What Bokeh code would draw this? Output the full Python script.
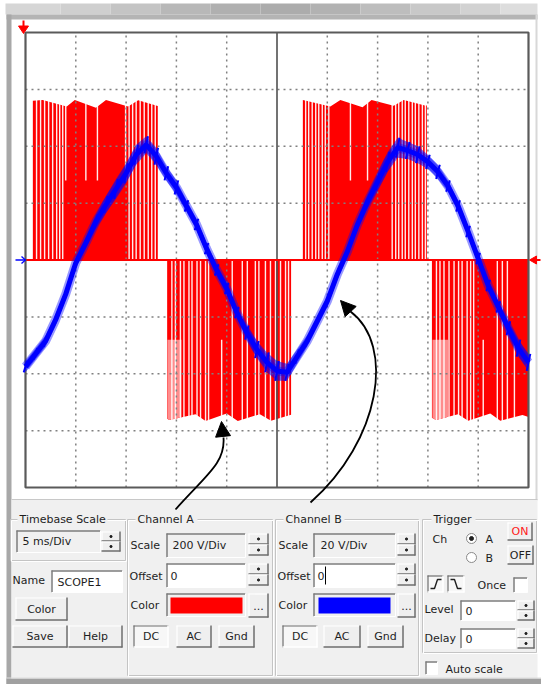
import numpy as np
from bokeh.plotting import figure
from bokeh.models import Range1d, Arrow, NormalHead
from bokeh.core.properties import value
from bokeh.embed import file_html
from bokeh.resources import INLINE

# ---------------- data ----------------
time_div_ms = 5
chA_v_per_div = 200
chB_v_per_div = 20
n_xdiv = 10
n_ydiv = 8

# Channel B (blue) trace, ms / V
blue_t = list(range(0, 51))
blue_v = [-37.5, -33, -28.5, -21, -12, -1, 6, 13.5, 19.5, 25, 30.5, 37, 40.5, 36.5, 30.5,
          25.5, 19, 12.5, 4, -3.5, -10, -18.5, -25.5, -31.5, -36, -39, -39.5, -34, -28.5,
          -21.5, -14.5, -5, 3, 12.5, 20.5, 27.5, 34.5, 39.5, 38.5, 37, 34.5, 31, 26, 19,
          10, 0.5, -9, -16.5, -24, -31, -36]
# ripple band (peak-to-peak, V) seen around the blue trace
blue_ripple = [4, 4, 4, 4, 4, 4, 4, 5, 6, 7, 7, 7, 6, 6, 5, 5, 4, 4, 4, 4, 4, 4, 5, 6, 7,
               7, 6, 5, 4, 4, 4, 4, 4, 4, 5, 6, 7, 7, 6, 6, 5, 5, 4, 4, 4, 4, 4, 4, 5, 6, 6]

# Channel A (red) pulse envelope (|V|) breakpoints
red_env_t = [0, 1.7, 4.1, 4.9, 7.0, 8.0, 10.2, 11.2, 13.3, 14.3, 16.9, 17.9, 20.0, 21.1,
             23.3, 24.4, 26.4, 27.5, 30.3, 31.3, 33.5, 34.4, 36.6, 37.6, 39.8, 40.8, 43.0,
             44.0, 46.2, 47.2, 49.4, 50]
red_env_v = [558, 563, 540, 563, 535, 563, 540, 562, 540, 563, 542, 566, 540, 566, 542,
             565, 544, 563, 540, 563, 537, 563, 542, 563, 542, 563, 542, 565, 540, 565,
             545, 552]
red_mid_v = 280

red_half_start = [0.73, 14.08, 27.57, 40.4]
red_half_end = [13.15, 26.4, 39.9, 50.0]
red_half_sign = [1, -1, 1, -1]
red_full_gaps = [
    [1.1, 1.5, 1.9, 2.3, 2.7, 3.1, 3.4, 3.7, 10.3, 10.65, 11.0, 11.4, 11.8, 12.2, 12.55, 12.9],
    [14.55, 14.9, 15.4, 15.75, 16.25, 16.55, 17.05, 17.4, 17.9, 18.2, 20.55, 21.55, 22.05,
     22.85, 23.2, 23.85, 24.35, 24.85, 25.35, 25.85, 26.15],
    [27.85, 28.15, 28.5, 28.85, 29.15, 29.5, 29.8, 30.15, 36.45, 36.8, 37.1, 37.45, 37.75,
     38.1, 38.45, 38.75, 39.1, 39.45, 39.75],
    [40.85, 41.2, 41.6, 42.1, 42.6, 43.05, 43.4, 43.9, 44.25, 44.55, 46.9, 47.4, 47.9],
]
red_outer_gaps = [[4.0, 6.0, 7.15, 9.95], [19.5], [32.3, 34.0], [45.5, 48.6]]
red_pink_start = [[], [14.1], [], [40.45]]
red_pink_end = [[], [15.5], [], [42.0]]

# ---------------- figure ----------------
W, H = 541, 684
p = figure(width=W, height=H, x_range=Range1d(0, W), y_range=Range1d(H, 0),
           output_backend="svg", toolbar_location=None, min_border=0,
           x_axis_type=None, y_axis_type=None)
p.outline_line_color = None
p.background_fill_color = "white"
p.border_fill_color = "white"

FONT = "DejaVu Sans"
RED = "#ff0000"
BLUE = "#0000ff"
PANEL = "#f0f0f0"

# screen geometry (page pixels)
SX0, SX1 = 25.0, 528.0
SY0, SY1 = 32.0, 487.0
t_span = n_xdiv * time_div_ms
ms_px = t_span / (SX1 - SX0)
ycen = (SY0 + SY1) / 2
div_px = n_ydiv / (SY1 - SY0)
p.extra_x_ranges = {"t": Range1d((0 - SX0) * ms_px, (W - SX0) * ms_px)}
p.extra_y_ranges = {
    "va": Range1d((ycen - H) * div_px * chA_v_per_div, ycen * div_px * chA_v_per_div),
    "vb": Range1d((ycen - H) * div_px * chB_v_per_div, ycen * div_px * chB_v_per_div),
}
TA = dict(x_range_name="t", y_range_name="va")
TB = dict(x_range_name="t", y_range_name="vb")


def box(x0, y0, x1, y1, fill, line=None, lw=1):
    p.quad(left=[x0], right=[x1], top=[y0], bottom=[y1], fill_color=fill,
           line_color=line, line_width=lw)


def seg(x0, y0, x1, y1, color, w=1, dash="solid"):
    p.segment(x0=[x0], y0=[y0], x1=[x1], y1=[y1], line_color=color, line_width=w,
              line_dash=dash)


def txt(x, y, s, size="11px", color="#1e1e1e", align="left", style="normal"):
    p.text(x=[x], y=[y], text=[s], text_font=value(FONT), text_font_size=size,
           text_color=color, text_align=align, text_baseline="middle",
           text_font_style=style)


def sunken(x0, y0, x1, y1, fill="white"):
    box(x0, y0, x1, y1, fill)
    seg(x0, y0 + 0.5, x1, y0 + 0.5, "#7c7c7c", 1.5)
    seg(x0 + 0.5, y0, x0 + 0.5, y1, "#7c7c7c", 1.5)
    seg(x0, y1, x1, y1, "#ffffff", 1)
    seg(x1, y0, x1, y1, "#ffffff", 1)


def raised(x0, y0, x1, y1, label=None, color="#1e1e1e", pressed=False):
    box(x0, y0, x1, y1, "#f7f7f7" if pressed else "#efefef")
    dark, light = ("#ffffff", "#6e6e6e") if pressed else ("#6e6e6e", "#ffffff")
    seg(x0, y0 + 0.5, x1, y0 + 0.5, light, 1.2)
    seg(x0 + 0.5, y0, x0 + 0.5, y1, light, 1.2)
    seg(x0, y1 - 0.5, x1, y1 - 0.5, dark, 1.5)
    seg(x1 - 0.5, y0, x1 - 0.5, y1, dark, 1.5)
    if label:
        txt((x0 + x1) / 2, (y0 + y1) / 2, label, color=color, align="center")


def spinner(x0, y0, x1, y1):
    ym = (y0 + y1) / 2
    raised(x0, y0, x1, ym)
    raised(x0, ym, x1, y1)
    cx = (x0 + x1) / 2
    p.scatter(x=[cx, cx], y=[(y0 + ym) / 2, (ym + y1) / 2], size=2.2, color="#202020")


def group(x0, y0, x1, y1, label, lx, lw):
    for c, o in (("#c4c4c4", 0), ("#ffffff", 1)):
        seg(x0 + o, y0 + o, lx - 2, y0 + o, c)
        seg(lx + lw + 2, y0 + o, x1 + o, y0 + o, c)
        seg(x0 + o, y0 + o, x0 + o, y1 + o, c)
        seg(x1 + o, y0 + o, x1 + o, y1 + o, c)
        seg(x0 + o, y1 + o, x1 + o, y1 + o, c)
    txt(lx, y0, label)


# ---------------- window chrome ----------------
strip_x = [5, 60, 110, 160, 210, 260, 310, 360, 410, 460, 500, 537]
strip_c = ["#d6d6d6", "#cfcfcf", "#c4c4c4", "#b8b8b8", "#b0b0b0", "#acacac", "#b2b2b2",
           "#bdbdbd", "#c8c8c8", "#d2d2d2", "#dddddd"]
for i in range(len(strip_c)):
    box(strip_x[i], 3, strip_x[i + 1], 14, strip_c[i])
box(6, 14, 537, 19, "#b4b4b4")
box(6, 14, 11, 684, "#a8a8a8")
box(535, 14, 537, 500, "#d8d8d8")

# panel
box(11, 499, 537, 684, PANEL)
seg(11, 499, 537, 499, "#c8c8c8", 1)
box(6, 678, 541, 684, "#a0a0a0")
seg(6, 677.5, 541, 677.5, "#dcdcdc", 1)

# ---------------- oscilloscope screen ----------------
env_t = np.array(red_env_t, dtype=float)
env_v = np.array(red_env_v, dtype=float)
gw = 0.07
for k in range(4):
    s, e, sg = red_half_start[k], red_half_end[k], red_half_sign[k]
    ts = [s] + [t for t in red_env_t if s < t < e] + [e]
    vs = [sg * float(np.interp(t, env_t, env_v)) for t in ts]
    p.varea(x=ts, y1=0, y2=vs, fill_color=RED, **TA)
    for a, b in zip(red_pink_start[k], red_pink_end[k]):
        pts = [a] + [t for t in red_env_t if a < t < b] + [b]
        pv = [sg * float(np.interp(t, env_t, env_v)) for t in pts]
        p.varea(x=pts, y1=sg * red_mid_v, y2=pv, fill_color="#ff8c8c", **TA)
    fg = red_full_gaps[k]
    if fg:
        top = [sg * (float(np.interp(t, env_t, env_v)) + 6) for t in fg]
        p.quad(left=[t - gw for t in fg], right=[t + gw for t in fg],
               top=[max(0, v) for v in top], bottom=[min(0, v) for v in top],
               fill_color="white", fill_alpha=0.92, line_color=None, **TA)
    og = red_outer_gaps[k]
    if og:
        top = [sg * (float(np.interp(t, env_t, env_v)) + 6) for t in og]
        mid = [sg * red_mid_v for _ in og]
        p.quad(left=[t - gw for t in og], right=[t + gw for t in og],
               top=[max(a, b) for a, b in zip(top, mid)],
               bottom=[min(a, b) for a, b in zip(top, mid)],
               fill_color="white", fill_alpha=0.92, line_color=None, **TA)

# grid (dotted), centre lines
vmax = n_ydiv / 2 * chA_v_per_div
xt = [i * time_div_ms for i in range(1, n_xdiv) if i != n_xdiv // 2]
p.segment(x0=xt, y0=[-vmax] * len(xt), x1=xt, y1=[vmax] * len(xt), line_color="#808080",
          line_width=1.5, line_dash="2 4", **TA)
yt = [j * chA_v_per_div for j in range(-3, 4) if j != 0]
p.segment(x0=[0] * len(yt), y0=yt, x1=[t_span] * len(yt), y1=yt, line_color="#808080",
          line_width=1.5, line_dash="2 4", **TA)
p.segment(x0=[t_span / 2], y0=[-vmax], x1=[t_span / 2], y1=[vmax], line_color="#505050",
          line_width=1.6, **TA)
# channel A zero trace
p.segment(x0=[0], y0=[0], x1=[t_span], y1=[0], line_color=RED, line_width=2, **TA)
# screen frame
p.quad(left=[0], right=[t_span], top=[vmax], bottom=[-vmax], fill_color=None,
       line_color="#5a5a5a", line_width=2.2, **TA)

# channel B trace: ripple band + core
lo = [v - r / 2 for v, r in zip(blue_v, blue_ripple)]
hi = [v + r / 2 for v, r in zip(blue_v, blue_ripple)]
p.varea(x=blue_t, y1=lo, y2=hi, fill_color=BLUE, fill_alpha=0.55, **TB)
p.line(x=blue_t, y=blue_v, line_color=BLUE, line_width=9, line_alpha=0.4,
       line_join="round", **TB)
p.segment(x0=[t - 0.18 for t in blue_t], y0=lo, x1=[t + 0.18 for t in blue_t], y1=hi,
          line_color=BLUE, line_width=2, **TB)
p.line(x=blue_t, y=blue_v, line_color=BLUE, line_width=5, line_join="round", **TB)

# markers
p.patch(x=[18, 28, 23], y=[25.5, 25.5, 33], fill_color=RED, line_color=RED)
seg(23, 20, 23, 26, RED, 2)
seg(15, 259.5, 25, 259.5, BLUE, 1.3)
seg(25, 259.5, 21, 256, BLUE, 1.3)
seg(25, 259.5, 21, 263, BLUE, 1.3)
p.patch(x=[529, 536, 536], y=[259.5, 255.5, 263.5], fill_color=RED, line_color=RED)
seg(533, 259.5, 540, 259.5, RED, 2)

# ---------------- control panel ----------------
group(10, 519, 125, 560, "Timebase Scale", 19, 86)
sunken(16, 530, 100, 552, "#f0f0f0")
txt(22, 541, "5 ms/Div")
spinner(101, 531, 120, 551)
txt(12, 580, "Name")
sunken(51, 570, 122, 592)
txt(57, 582, "SCOPE1")
raised(15, 597, 67, 620, "Color")
raised(12, 625, 67, 647, "Save")
raised(68, 625, 122, 647, "Help")

group(127, 519, 272, 675, "Channel A", 137, 58)
txt(130, 545, "Scale")
sunken(166, 533, 245, 557, "#f0f0f0")
txt(172, 545, "200  V/Div")
spinner(248, 533, 268, 555)
txt(129, 576, "Offset")
sunken(166, 563, 245, 587)
txt(170, 575, "0")
spinner(248, 563, 268, 585)
txt(130, 605, "Color")
sunken(166, 593, 245, 616, "#f0f0f0")
box(170, 597, 242, 613, RED)
raised(248, 593, 268, 617, "...")
raised(133, 625, 168, 647, "DC", pressed=True)
raised(176, 625, 211, 647, "AC")
raised(218, 625, 254, 647, "Gnd")

group(275, 519, 418, 675, "Channel B", 285, 57)
txt(278, 545, "Scale")
sunken(313, 533, 395, 557, "#f0f0f0")
txt(320, 545, "20  V/Div")
spinner(397, 533, 415, 555)
txt(277, 576, "Offset")
sunken(313, 563, 395, 587)
txt(317, 575, "0")
seg(325, 566, 325, 584, "#000000", 1)
spinner(397, 563, 415, 585)
txt(278, 605, "Color")
sunken(313, 593, 395, 616, "#f0f0f0")
box(318, 597, 390, 613, BLUE)
raised(397, 593, 415, 617, "...")
raised(282, 625, 317, 647, "DC", pressed=True)
raised(323, 625, 360, 647, "AC")
raised(367, 625, 403, 647, "Gnd")

group(422, 519, 536, 652, "Trigger", 433, 40)
txt(432, 539, "Ch")
p.scatter(x=[471, 471], y=[538, 557], size=10, fill_color="white", line_color="#8a8a8a")
p.scatter(x=[471], y=[538], size=4, color="#202020")
txt(485, 539, "A")
txt(485, 558, "B")
raised(507, 522, 532, 540, "ON", color="#ff2020")
raised(507, 545, 533, 564, "OFF")
raised(427, 575, 443, 592, pressed=True)
raised(447, 575, 464, 592, pressed=True)
p.line(x=[430, 434, 437, 441], y=[588, 588, 579, 579], line_color="#202020", line_width=1.4)
p.line(x=[450, 454, 457, 461], y=[579, 579, 588, 588], line_color="#202020", line_width=1.4)
txt(477, 585, "Once")
sunken(513, 577, 527, 592)
txt(424, 609, "Level")
sunken(460, 600, 515, 620)
txt(465, 610, "0")
spinner(517, 600, 534, 620)
txt(424, 638, "Delay")
sunken(460, 628, 515, 648)
txt(465, 638, "0")
spinner(517, 628, 534, 648)
sunken(425, 661, 437, 674)
txt(445, 669, "Auto scale")

# ---------------- annotation arrows ----------------
p.bezier(x0=[175], y0=[509], x1=[223], y1=[437], cx0=[205], cy0=[475], cx1=[225], cy1=[463],
         line_color="black", line_width=1.8)
p.add_layout(Arrow(x_start=223, y_start=440, x_end=221, y_end=421, line_alpha=0,
                   end=NormalHead(size=15, fill_color="black", line_color="black")))
p.bezier(x0=[310], y0=[502], x1=[350], y1=[311], cx0=[380], cy0=[440], cx1=[395], cy1=[345],
         line_color="black", line_width=1.8)
p.add_layout(Arrow(x_start=352, y_start=313, x_end=340, y_end=300, line_alpha=0,
                   end=NormalHead(size=15, fill_color="black", line_color="black")))

open("out.html", "w").write(file_html(p, INLINE))
